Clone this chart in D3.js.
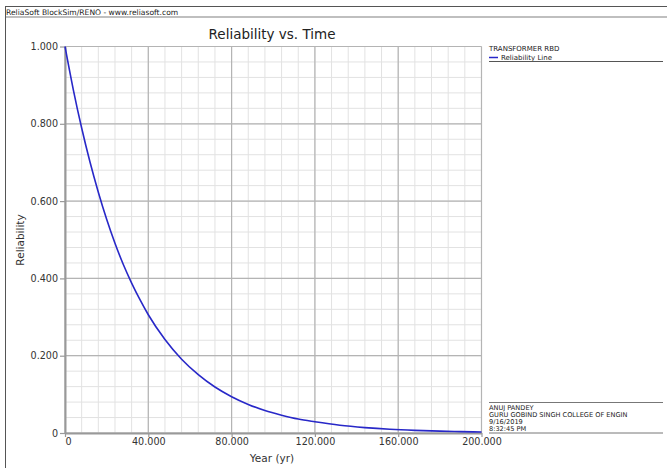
<!DOCTYPE html>
<html><head><meta charset="utf-8">
<script src="https://cdn.jsdelivr.net/npm/d3@7"></script>
<style>body{margin:0;background:#fff}svg{display:block}</style>
</head><body>
<script>
// Data
const years = [0, 4, 8, 12, 16, 20, 24, 28, 32, 36, 40, 48, 56, 64, 72, 80, 88, 96, 104, 112, 120, 132, 144, 156, 168, 180, 190, 200];
const reliability = [1.000, 0.888, 0.789, 0.701, 0.623, 0.553, 0.491, 0.436, 0.388, 0.345, 0.306, 0.242, 0.191, 0.151, 0.119, 0.094, 0.074, 0.058, 0.046, 0.036, 0.029, 0.020, 0.014, 0.0097, 0.0068, 0.0048, 0.0036, 0.0027];
const xTicks = [0, 40, 80, 120, 160, 200];
const xTickLabels = ["0", "40.000", "80.000", "120.000", "160.000", "200.000"];
const yTicks = [0, 0.2, 0.4, 0.6, 0.8, 1.0];
const yTickLabels = ["0", "0.200", "0.400", "0.600", "0.800", "1.000"];
const title = "Reliability vs. Time";
const xLabel = "Year (yr)";
const yLabel = "Reliability";
const header = "ReliaSoft BlockSim/RENO - www.reliasoft.com";
const legendTitle = "TRANSFORMER RBD";
const seriesName = "Reliability Line";
const infoLines = ["ANUJ PANDEY", "GURU GOBIND SINGH COLLEGE OF ENGIN", "9/16/2019", "8:32:45 PM"];

const W = 667, H = 468;
const svg = d3.select("body").append("svg").attr("width", W).attr("height", H);
const font = "Tahoma, 'DejaVu Sans', Verdana, sans-serif";

// frame
svg.append("line").attr("x1", 5).attr("x2", W).attr("y1", 6.5).attr("y2", 6.5).attr("stroke", "#555").attr("stroke-width", 1);
svg.append("line").attr("x1", 5).attr("x2", W).attr("y1", 17).attr("y2", 17).attr("stroke", "#aaa").attr("stroke-width", 1.5);
svg.append("line").attr("x1", 5.5).attr("x2", 5.5).attr("y1", 6).attr("y2", H).attr("stroke", "#555").attr("stroke-width", 1);
svg.append("text").attr("x", 6).attr("y", 14.5).attr("font-family", "'DejaVu Sans', sans-serif").attr("font-size", 7.6)
  .attr("fill", "#222").text(header);

const L = 65, R = 481.5, T = 46.5, B = 433;
const x = d3.scaleLinear().domain([0, 200]).range([L, R]);
const y = d3.scaleLinear().domain([0, 1]).range([B, T]);

// minor grid
const g = svg.append("g");
g.selectAll(".vx").data(d3.range(0, 201, 8)).enter().append("line")
  .attr("x1", d => x(d)).attr("x2", d => x(d)).attr("y1", T).attr("y2", B)
  .attr("stroke", "#e2e2e2").attr("stroke-width", 1);
g.selectAll(".hy").data(d3.range(0, 26).map(i => i * 0.04)).enter().append("line")
  .attr("x1", L).attr("x2", R).attr("y1", d => y(d)).attr("y2", d => y(d))
  .attr("stroke", "#e2e2e2").attr("stroke-width", 1);
// major grid
g.selectAll(".mx").data(xTicks).enter().append("line")
  .attr("x1", d => x(d)).attr("x2", d => x(d)).attr("y1", T).attr("y2", B)
  .attr("stroke", "#b4b4b4").attr("stroke-width", 1.2);
g.selectAll(".my").data(yTicks).enter().append("line")
  .attr("x1", L).attr("x2", R).attr("y1", d => y(d)).attr("y2", d => y(d))
  .attr("stroke", "#b4b4b4").attr("stroke-width", 1.2);

// axes
const xAxis = d3.axisBottom(x).tickValues(xTicks).tickFormat((d, i) => xTickLabels[i]).tickSize(4).tickSizeOuter(0);
const yAxis = d3.axisLeft(y).tickValues(yTicks).tickFormat((d, i) => yTickLabels[i]).tickSize(5).tickSizeOuter(0);
const gx = svg.append("g").attr("transform", `translate(0,${B})`).call(xAxis);
const gy = svg.append("g").attr("transform", `translate(${L},0)`).call(yAxis);
[gx, gy].forEach(a => {
  a.select(".domain").attr("stroke", "#999").attr("stroke-width", 2);
  a.selectAll(".tick line").attr("stroke", "#999").attr("stroke-width", 1.2);
  a.selectAll(".tick text").attr("font-family", "'DejaVu Sans', sans-serif").attr("font-size", 9.6).attr("fill", "#333");
});
gx.selectAll(".tick text").attr("dy", "0.95em").attr("y", 3);
gx.selectAll(".tick").filter(d => d === 0).select("text").attr("dx", 3);
gy.selectAll(".tick text").attr("x", -7);

// curve
const line = d3.line().x((d, i) => x(years[i])).y((d, i) => y(reliability[i])).curve(d3.curveMonotoneX);
svg.append("path").datum(reliability).attr("d", line).attr("fill", "none")
  .attr("stroke", "#2828c8").attr("stroke-width", 1.6);

// title & labels
svg.append("text").attr("x", 272).attr("y", 39).attr("text-anchor", "middle")
  .attr("font-family", font).attr("font-size", 13.5).attr("fill", "#222").text(title);
svg.append("text").attr("x", 272).attr("y", 462).attr("text-anchor", "middle")
  .attr("font-family", font).attr("font-size", 10.5).attr("fill", "#333").text(xLabel);
svg.append("text").attr("transform", "translate(24,240) rotate(-90)").attr("text-anchor", "middle")
  .attr("font-family", font).attr("font-size", 10.5).attr("fill", "#333").text(yLabel);

// legend
const lf = "'DejaVu Sans', sans-serif";
svg.append("text").attr("x", 489).attr("y", 51).attr("font-family", lf).attr("font-size", 7).attr("fill", "#222").text(legendTitle);
svg.append("line").attr("x1", 489).attr("x2", 498).attr("y1", 57.5).attr("y2", 57.5).attr("stroke", "#2828c8").attr("stroke-width", 1.5);
svg.append("text").attr("x", 501).attr("y", 59.5).attr("font-family", lf).attr("font-size", 7).attr("fill", "#222").text(seriesName);
svg.append("line").attr("x1", 489).attr("x2", 663).attr("y1", 61.5).attr("y2", 61.5).attr("stroke", "#555").attr("stroke-width", 1);

// info block
svg.append("line").attr("x1", 489).attr("x2", 663).attr("y1", 402.5).attr("y2", 402.5).attr("stroke", "#777").attr("stroke-width", 1);
infoLines.forEach((t, i) => {
  svg.append("text").attr("x", 489).attr("y", 409.5 + i * 7.2).attr("font-family", lf).attr("font-size", 6.6).attr("fill", "#222").text(t);
});
svg.append("line").attr("x1", 489).attr("x2", 663).attr("y1", 433).attr("y2", 433).attr("stroke", "#777").attr("stroke-width", 1);
</script>
</body></html>
